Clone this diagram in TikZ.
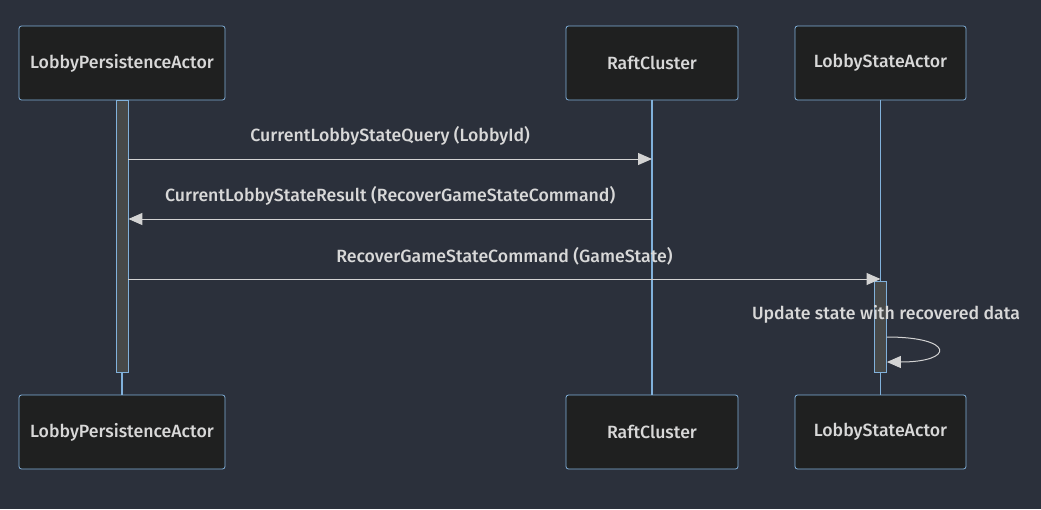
\documentclass[tikz,border=0pt]{standalone}
\usepackage{fontspec}
\setmainfont{Fira Sans}[UprightFont=* Medium]
\usetikzlibrary{arrows.meta}
\definecolor{bgcol}{HTML}{2B303B}
\definecolor{actorfill}{HTML}{1F2020}
\definecolor{actorline}{HTML}{81B1DB}
\definecolor{txtcol}{HTML}{D8D8D8}
\definecolor{msgcol}{HTML}{D3D3D3}
\definecolor{actfill}{HTML}{474949}
\tikzset{
  actor/.style={draw=actorline,fill=actorfill,rounded corners=2.5pt,
    minimum height=74pt,inner sep=0pt,text=txtcol,line width=0.8pt,
    font=\fontsize{17.7}{20}\selectfont},
  lifeline/.style={draw=actorline,line width=1.2pt},
  actbar/.style={draw=actorline,fill=actfill,minimum width=12pt,
    inner sep=0pt,line width=0.8pt},
  msg/.style={draw=msgcol,line width=1pt,
    -{Triangle[length=14pt,width=12pt]}},
  msglabel/.style={text=txtcol,font=\fontsize{17.7}{20}\selectfont}
}
\begin{document}
\begin{tikzpicture}[x=1pt,y=-1pt]
  \fill[bgcol] (0,0) rectangle (1041,509);
  % actors with their lifelines
  \foreach \x/\w/\nm/\texn in {122/206/lpa/LobbyPersistenceActor,
    652/172/rc/RaftCluster, 880.5/171/lsa/LobbyStateActor}
  {
    \path (\x,432) node[actor,minimum width=\w pt](\nm-b){\texn};
    \path (\x,63) node[actor,minimum width=\w pt](\nm-t){\texn};
    \draw[lifeline] (\nm-t.south)--(\nm-b.north);
  }
  % activations
  \node[actbar,minimum height=272pt] (lpa-act) at (122,236) {};
  \node[actbar,minimum height=91pt] (lsa-act) at (880.5,326.5) {};
  % messages
  \draw[msg] (lpa-act.east|-0,159)--(rc-t.south|-0,159)
    node[msglabel,midway,above=10pt]{CurrentLobbyStateQuery (LobbyId)};
  \draw[msg] (rc-t.south|-0,219)--(lpa-act.east|-0,219)
    node[msglabel,midway,above=10pt]{CurrentLobbyStateResult (RecoverGameStateCommand)};
  \draw[msg] (lpa-act.east|-0,279)--(lsa-t.south|-0,279)
    node[msglabel,midway,above=10pt]{RecoverGameStateCommand (GameState)};
  \node[msglabel] (self-lbl) at (886,314) {Update state with recovered data};
  \draw[msg] (lsa-act.east|-0,337) .. controls +(68,0) and +(68,0) ..
    (lsa-act.east|-0,362);
\end{tikzpicture}
\end{document}
